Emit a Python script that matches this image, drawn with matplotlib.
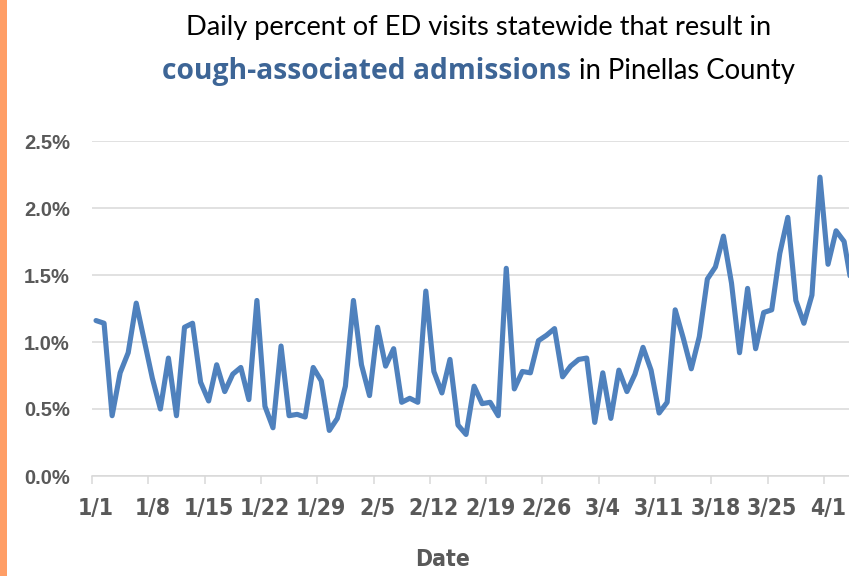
import matplotlib
matplotlib.use('Agg')
import matplotlib.pyplot as plt
from matplotlib.ticker import FixedLocator, NullFormatter, FixedFormatter
from matplotlib.patches import Rectangle

# ---- data ----
values = [1.16, 1.14, 0.45, 0.77, 0.92, 1.29, 1.01, 0.73, 0.50, 0.88,
          0.45, 1.11, 1.14, 0.70, 0.56, 0.83, 0.63, 0.76, 0.81, 0.57,
          1.31, 0.52, 0.36, 0.97, 0.45, 0.46, 0.44, 0.81, 0.71, 0.34,
          0.43, 0.67, 1.31, 0.83, 0.60, 1.11, 0.82, 0.95, 0.55, 0.58,
          0.55, 1.38, 0.78, 0.62, 0.87, 0.38, 0.31, 0.67, 0.54, 0.55,
          0.45, 1.55, 0.65, 0.78, 0.77, 1.01, 1.05, 1.10, 0.74, 0.82,
          0.87, 0.88, 0.40, 0.77, 0.43, 0.79, 0.63, 0.76, 0.96, 0.79,
          0.47, 0.55, 1.24, 1.03, 0.80, 1.04, 1.47, 1.56, 1.79, 1.44,
          0.92, 1.40, 0.95, 1.22, 1.24, 1.66, 1.93, 1.31, 1.14, 1.35,
          2.23, 1.58, 1.83, 1.75, 1.40]
tick_labels = ["1/1", "1/8", "1/15", "1/22", "1/29", "2/5", "2/12",
               "2/19", "2/26", "3/4", "3/11", "3/18", "3/25", "4/1"]
y_ticks = [0.0, 0.5, 1.0, 1.5, 2.0, 2.5]
title_line1 = "Daily percent of ED visits statewide that result in"
title_bold = "cough-associated admissions"
title_rest = "in Pinellas County"
x_label = "Date"

W, H = 849, 576
fig = plt.figure(figsize=(W / 100, H / 100), dpi=100)

# axes in pixel terms: left 92, bottom y=476, top y=141, 8.044 px per day
px_per_day = 732 / 91
n_days = 96
ax_left = 92
ax_w = px_per_day * n_days
ax = fig.add_axes([ax_left / W, (H - 476) / H, ax_w / W, (476 - 141) / H])

xs = list(range(len(values)))
ax.plot(xs, values, color="#4F81BD", lw=3.7, solid_joinstyle="round",
        solid_capstyle="round", clip_on=False, zorder=3)

ax.set_xlim(-0.5, n_days - 0.5)
ax.set_ylim(0, 2.5)

grid_col = "#D9D9D9"
for s in ["top", "right", "left"]:
    ax.spines[s].set_visible(False)
ax.spines["bottom"].set_color(grid_col)
ax.spines["bottom"].set_linewidth(1.1)

ax.set_yticks(y_ticks)
ax.set_yticklabels([f"{v:.1f}%" for v in y_ticks])
ax.yaxis.grid(True, color=grid_col, lw=1.1)
ax.set_axisbelow(True)
ax.tick_params(axis="y", length=0, pad=16, labelsize=14.5, labelcolor="#595959")
for lab in ax.get_yticklabels():
    lab.set_fontfamily(["Liberation Sans", "DejaVu Sans"])
    lab.set_fontweight("bold")

# major ticks at category boundaries, labels on minor ticks at categories
major_pos = [-0.5 + 7 * k for k in range(len(tick_labels) + 1)]
minor_pos = [7 * k for k in range(len(tick_labels))]
ax.xaxis.set_major_locator(FixedLocator(major_pos))
ax.xaxis.set_major_formatter(NullFormatter())
ax.xaxis.set_minor_locator(FixedLocator(minor_pos))
ax.xaxis.set_minor_formatter(FixedFormatter(tick_labels))
ax.tick_params(axis="x", which="major", length=5.5, width=1.1, color=grid_col)
ax.tick_params(axis="x", which="minor", length=0, pad=15, labelsize=16.5,
               labelcolor="#595959")
for lab in ax.xaxis.get_minorticklabels():
    lab.set_fontfamily("DejaVu Sans")
    lab.set_fontstretch("condensed")
    lab.set_fontweight("bold")

fig.text(443 / W, 1 - 559 / H, x_label, ha="center", va="center",
         fontsize=16.5, color="#595959", fontweight="bold",
         fontstretch="condensed", family="DejaVu Sans")

# orange side bar
fig.patches.append(Rectangle((0, 0), 7 / W, 1, transform=fig.transFigure,
                             facecolor="#FF9E66", edgecolor="none"))

# title: fit each piece to the width it occupies in the reference
fig.canvas.draw()
r = fig.canvas.get_renderer()


def fitted_text(x_left, x_right, y, s, fam, **kw):
    t = fig.text(0, 1 - y / H, s, ha="left", va="center", fontsize=20,
                 family=fam, **kw)
    w = t.get_window_extent(r).width
    t.set_fontsize(20 * (x_right - x_left) / w)
    t.set_x(x_left / W)
    return t


fitted_text(186, 774, 28, title_line1, ["Lato", "DejaVu Sans"], color="black")
fitted_text(162, 571, 71, title_bold, ["Open Sans", "DejaVu Sans"],
            color="#3D6596", fontweight="bold")
fitted_text(579, 796, 71, title_rest, ["Lato", "DejaVu Sans"], color="black")

fig.savefig("out.png", dpi=100)
